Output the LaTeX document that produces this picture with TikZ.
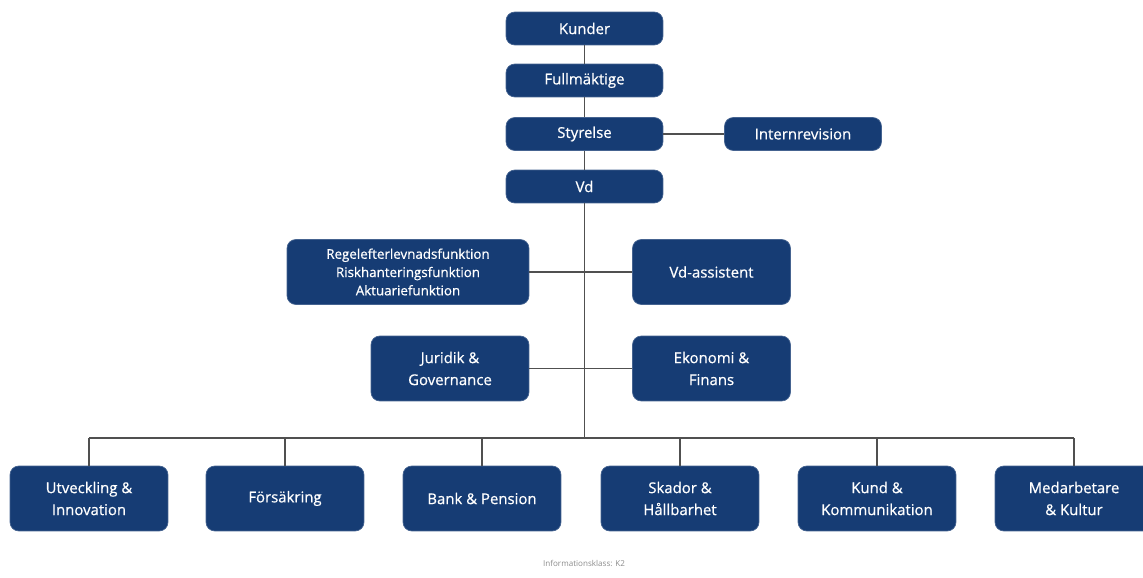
\documentclass[tikz,border=0pt]{standalone}
\usepackage{fontspec}
\setmainfont{Open Sans}
\newfontfamily\boxfont{Open Sans}[FakeBold=0.6]
\usetikzlibrary{positioning}
\definecolor{orgblue}{RGB}{22,60,116}
\definecolor{linegray}{RGB}{80,80,80}

\begin{document}
\begin{tikzpicture}[
  x=0.02cm, y=-0.02cm,
  unit/.style={draw=orgblue!80!white, fill=orgblue, rounded corners=5pt, text=white,
    align=center, inner sep=1pt, font=\boxfont\fontsize{8.5}{12.5}\selectfont},
  topunit/.style={unit, minimum width=3.14cm, minimum height=0.66cm},
  staffunit/.style={unit, minimum width=3.16cm, minimum height=1.3cm},
  link/.style={draw=linegray, line width=1pt}
]
\useasboundingbox (0,0) rectangle (1143,578);

% Governance spine
\node[topunit] (kunder) at (584.5,28.5) {Kunder};
\node[topunit] (fullm) at (584.5,80.5) {Fullmäktige};
\node[topunit] (styr) at (584.5,134) {Styrelse};
\node[topunit] (intrev) at (803,134) {Internrevision};
\node[topunit] (vd) at (584.5,186.5) {Vd};

% Staff functions
\node[staffunit, minimum width=4.84cm, font=\boxfont\fontsize{7.6}{10.4}\selectfont] (kontroll) at (408,272)
  {Regelefterlevnadsfunktion\\Riskhanteringsfunktion\\Aktuariefunktion};
\node[staffunit] (vdass) at (711.5,272) {Vd-assistent};
\node[staffunit] (juridik) at (450,368.5) {Juridik \&\\Governance};
\node[staffunit] (ekonomi) at (711.5,368.5) {Ekonomi \&\\Finans};

% Business areas
\node[staffunit] (utv) at (89,498.5) {Utveckling \&\\Innovation};
\node[staffunit] (fors) at (285,498.5) {Försäkring};
\node[staffunit] (bank) at (482,498.5) {Bank \& Pension};
\node[staffunit] (skador) at (680,498.5) {Skador \&\\Hållbarhet};
\node[staffunit] (kund) at (877,498.5) {Kund \&\\Kommunikation};
\node[staffunit] (medarb) at (1074,498.5) {Medarbetare\\\& Kultur};

\coordinate (bus) at (584.5,438);

% Lines
\draw[link] (kunder) -- (fullm);
\draw[link] (fullm) -- (styr);
\draw[link] (styr) -- (vd);
\draw[link] (styr) -- (intrev);
\draw[link] (vd) -- (bus);
\draw[link] (kontroll) -- (vdass);
\draw[link] (juridik) -- (ekonomi);
\draw[link] (bus -| utv.north) -- (bus -| medarb.north);
\foreach \n in {utv, fors, bank, skador, kund, medarb}
  \draw[link] (bus -| \n.north) -- (\n.north);

% Footer
\node[text=black!45, font=\fontsize{4.6}{5}\selectfont] (klass) at (584,563) {Informationsklass: K2};
\end{tikzpicture}
\end{document}
